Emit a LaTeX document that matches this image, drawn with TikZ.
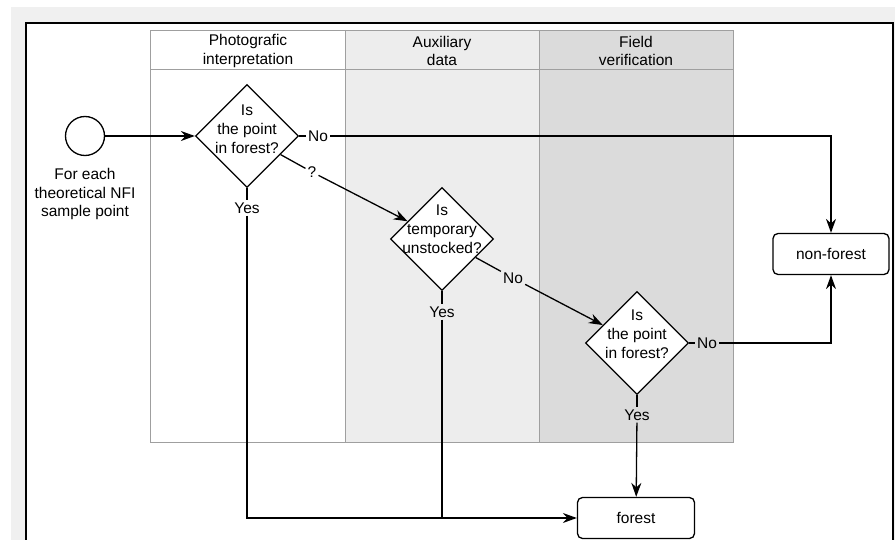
\documentclass[tikz,border=0pt]{standalone}
\usepackage{fontspec}
\setmainfont{Liberation Sans}
\usetikzlibrary{arrows.meta,shapes.geometric}
\newcommand{\flowfont}{\fontsize{15.5}{18.8}\selectfont}
\tikzset{
  flowline/.style = {line width=1.3pt},
  flowarr/.style  = {-{Stealth[length=14pt,width=10pt]},line width=1.3pt},
  decision/.style = {diamond,draw,fill=white,line width=1.3pt,
                     minimum width=103pt,minimum height=103pt,inner sep=0pt},
  qtext/.style    = {align=center,font=\flowfont,inner sep=0pt},
  answer/.style   = {font=\flowfont,inner sep=2pt},
  endbox/.style   = {draw,fill=white,rounded corners=5pt,line width=1.3pt,
                     font=\flowfont,minimum height=41pt},
  lanehead/.style = {align=center,font=\flowfont},
  laneline/.style = {gray!75,line width=0.9pt}
}

\begin{document}
\begin{tikzpicture}[x=1pt,y=-1pt]
  \useasboundingbox (0,0) rectangle (895,540);
  \fill[black!6] (11,7) rectangle (895,540);
  \draw[fill=white,line width=1.2pt] (26,23) rectangle (893,560);
  % swimlanes
  \fill[black!7]  (345,30) rectangle (539,442);
  \fill[black!14] (539,30) rectangle (733,442);
  \draw[laneline] (150,30) rectangle (733,442);
  \draw[laneline] (150,69) -- (733,69);
  \draw[laneline] (345,30) -- (345,442);
  \draw[laneline] (539,30) -- (539,442);
  \node[lanehead] (lane1) at (248,51) {Photografic\\interpretation};
  \node[lanehead] (lane2) at (442,51) {Auxiliary\\data};
  \node[lanehead] (lane3) at (636,51) {Field\\verification};

  % start
  \node[circle,draw,line width=1.3pt,minimum size=39pt] (start) at (85,136) {};
  \node[lanehead] (startlbl) at (85,194)
        {For each\\theoretical NFI\\sample point};

  % decisions
  \node[decision] (q1) at (247,136) {};
  \node[qtext] at ([yshift=7pt]q1) {Is\\the point\\in forest?};
  \node[decision] (q2) at (442,239) {};
  \node[qtext] at ([yshift=10pt]q2) {Is\\temporary\\unstocked?};
  \node[decision] (q3) at (637,343) {};
  \node[qtext] at ([yshift=9pt]q3) {Is\\the point\\in forest?};

  % results
  \node[endbox,minimum width=117pt] (forest)    at (636,518) {forest};
  \node[endbox,minimum width=116pt] (nonforest) at (831,254) {non-forest};

  % answers
  \node[answer] (no1)  at (318,136) {No};
  \node[answer] (qm)   at (312,172) {?};
  \node[answer] (yes1) at (247,208) {Yes};
  \node[answer] (no2)  at (513,278) {No};
  \node[answer] (yes2) at (442,312) {Yes};
  \node[answer] (no3)  at (707,343) {No};
  \node[answer] (yes3) at (637,415) {Yes};

  % connectors
  \draw[flowarr]  (start) -- (q1);
  \draw[flowline] (q1) -- (no1);
  \draw[flowarr]  (no1) -| (nonforest);
  \draw[flowline] (q1) -- (qm);
  \draw[flowarr]  (qm) -- (q2);
  \draw[flowline] (q1) -- (yes1);
  \draw[flowarr]  (yes1) |- (forest);
  \draw[flowline] (q2) -- (no2);
  \draw[flowarr]  (no2) -- (q3);
  \draw[flowline] (q2) -- (yes2);
  \draw[flowline] (yes2) -- (yes2 |- forest.west);
  \draw[flowline] (q3) -- (no3);
  \draw[flowarr]  (no3) -| (nonforest);
  \draw[flowline] (q3) -- (yes3);
  \draw[flowarr]  (yes3) -- (forest);
\end{tikzpicture}
\end{document}
